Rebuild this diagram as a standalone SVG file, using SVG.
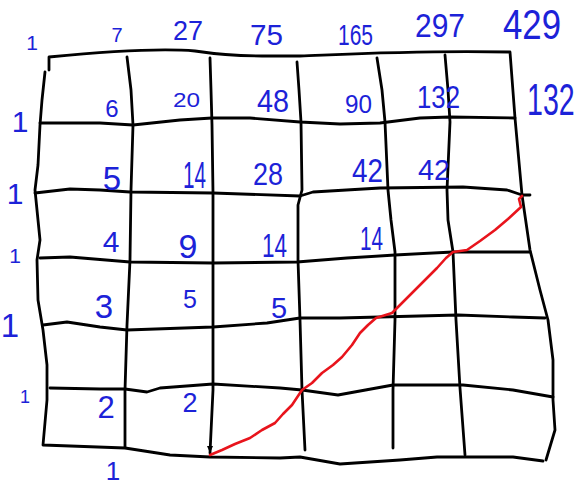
<svg xmlns="http://www.w3.org/2000/svg" width="578" height="487" viewBox="0 0 578 487">
<style>
.g{fill:none;stroke:#000;stroke-width:2.8;stroke-linecap:round;stroke-linejoin:round}
.r{fill:none;stroke:#e8141c;stroke-width:2.6;stroke-linecap:round;stroke-linejoin:round}
text{font-family:"Liberation Sans",Arial,sans-serif;fill:#1c22d8;text-anchor:middle}
.s{text-anchor:start}
</style>
<rect width="578" height="487" fill="#fff"/>
<g id="grid">
<path class="g" d="M49,70 L49,57 C100,52 160,48 195,51 C215,54 232,56 262,56 L300,56 C350,54 420,50 510,52 L515,118 L522,195 L530,250 L540,290 L548,320 L553,360 L553,400 L555,430 L546,460"/>
<path class="g" d="M45,72 L42,100 L40,125 L38,165 L35,190 L38,220 L40,240 L37,260 L38,300 L43,330 L47,365 L47,400 L43,445 L125,448 L170,455 L210,457 L280,458 L300,457 L340,464 L400,460 L437,457 L513,457 L543,461"/>
<path class="g" d="M127,57 L131,90 L133,125 L131,190 L130,260 L127,325 L125,390 L125,447"/>
<path class="g" d="M210,58 L211,90 L212,125 L213,193 L213,260 L213,325 L213,390 L210,453"/>
<path class="g" d="M297,62 L299,90 L301,122 L302,190 L298,205 L298,260 L300,320 L302,390 L305,450"/>
<path class="g" d="M377,58 L382,90 L385,122 L388,190 L391,220 L395,252 L395,320 L393,390 L393,448"/>
<path class="g" d="M445,55 L448,90 L450,122 L447,190 L448,220 L453,252 L456,320 L460,388 L465,455"/>
<path class="g" d="M40,123 L100,123 L133,125 L180,120 L212,118 L250,118 L300,122 L340,124 L380,123 L420,118 L450,117 L515,118"/>
<path class="g" d="M35,193 L70,189 L100,190 L130,192 L213,193 L300,196 L313,192 L380,188 L463,187 L507,190 L522,195 L530,195"/>
<path class="g" d="M40,258 L70,257 L130,262 L213,263 L297,262 L347,258 L395,255 L453,252 L530,252"/>
<path class="g" d="M43,325 L67,322 L100,327 L127,330 L213,327 L267,323 L300,318 L340,318 L380,317 L458,315 L513,317 L545,318"/>
<path class="g" d="M50,388 L100,389 L125,389 L147,392 L160,388 L213,384 L280,388 L302,390 L338,395 L393,385 L463,385 L513,390 L553,397"/>
<path d="M207,446 L213,446 L210,453 Z" fill="#000"/>
</g>
<g id="path">
<path class="r" d="M210,455 L222,450 L235,444 L250,438 L262,430 L275,423 L283,414 L292,405 L302,390 L312,383 L322,373 L333,365 L342,357 L352,345 L360,333 L368,325 L376,318 L392,313 L400,305 L412,293 L425,280 L437,268 L446,258 L453,252 L467,250 L480,241 L495,230 L508,219 L521,207 L519,199 L522,196"/>
</g>
<g id="labels">
<text x="32" y="50" font-size="21">1</text>
<text x="117" y="42" font-size="20">7</text>
<text class="s" x="173" y="40" font-size="28" textLength="30" lengthAdjust="spacingAndGlyphs">27</text>
<text class="s" x="250" y="45" font-size="30" textLength="33" lengthAdjust="spacingAndGlyphs">75</text>
<text class="s" x="338" y="45" font-size="30" textLength="35" lengthAdjust="spacingAndGlyphs">165</text>
<text class="s" x="415" y="37" font-size="33" textLength="50" lengthAdjust="spacingAndGlyphs">297</text>
<text class="s" x="503" y="39" font-size="42" textLength="58" lengthAdjust="spacingAndGlyphs">429</text>
<text x="112" y="117" font-size="24">6</text>
<text class="s" x="173" y="107" font-size="21" textLength="27" lengthAdjust="spacingAndGlyphs">20</text>
<text class="s" x="257" y="112" font-size="32" textLength="32" lengthAdjust="spacingAndGlyphs">48</text>
<text class="s" x="345" y="113" font-size="26" textLength="27" lengthAdjust="spacingAndGlyphs">90</text>
<text class="s" x="417" y="108" font-size="32" textLength="43" lengthAdjust="spacingAndGlyphs">132</text>
<text class="s" transform="translate(527,115) scale(0.65,1)" font-size="44">132</text>
<text x="20" y="132" font-size="30">1</text>
<text x="112" y="190" font-size="33">5</text>
<text class="s" x="183" y="188" font-size="36" textLength="23" lengthAdjust="spacingAndGlyphs">14</text>
<text class="s" x="253" y="185" font-size="32" textLength="30" lengthAdjust="spacingAndGlyphs">28</text>
<text class="s" x="352" y="182" font-size="34" textLength="31" lengthAdjust="spacingAndGlyphs">42</text>
<text class="s" x="418" y="180" font-size="30" textLength="32" lengthAdjust="spacingAndGlyphs">42</text>
<text x="15" y="204" font-size="30">1</text>
<text x="111" y="252" font-size="30">4</text>
<text x="188" y="258" font-size="34">9</text>
<text class="s" x="262" y="257" font-size="34" textLength="25" lengthAdjust="spacingAndGlyphs">14</text>
<text class="s" x="360" y="250" font-size="34" textLength="23" lengthAdjust="spacingAndGlyphs">14</text>
<text x="15" y="263" font-size="21">1</text>
<text x="104" y="318" font-size="33">3</text>
<text x="190" y="308" font-size="25">5</text>
<text x="279" y="318" font-size="29">5</text>
<text x="10" y="337" font-size="33">1</text>
<text x="106" y="418" font-size="31">2</text>
<text x="190" y="412" font-size="27">2</text>
<text x="25" y="403" font-size="18">1</text>
<text x="113" y="480" font-size="26">1</text>
</g>
</svg>
